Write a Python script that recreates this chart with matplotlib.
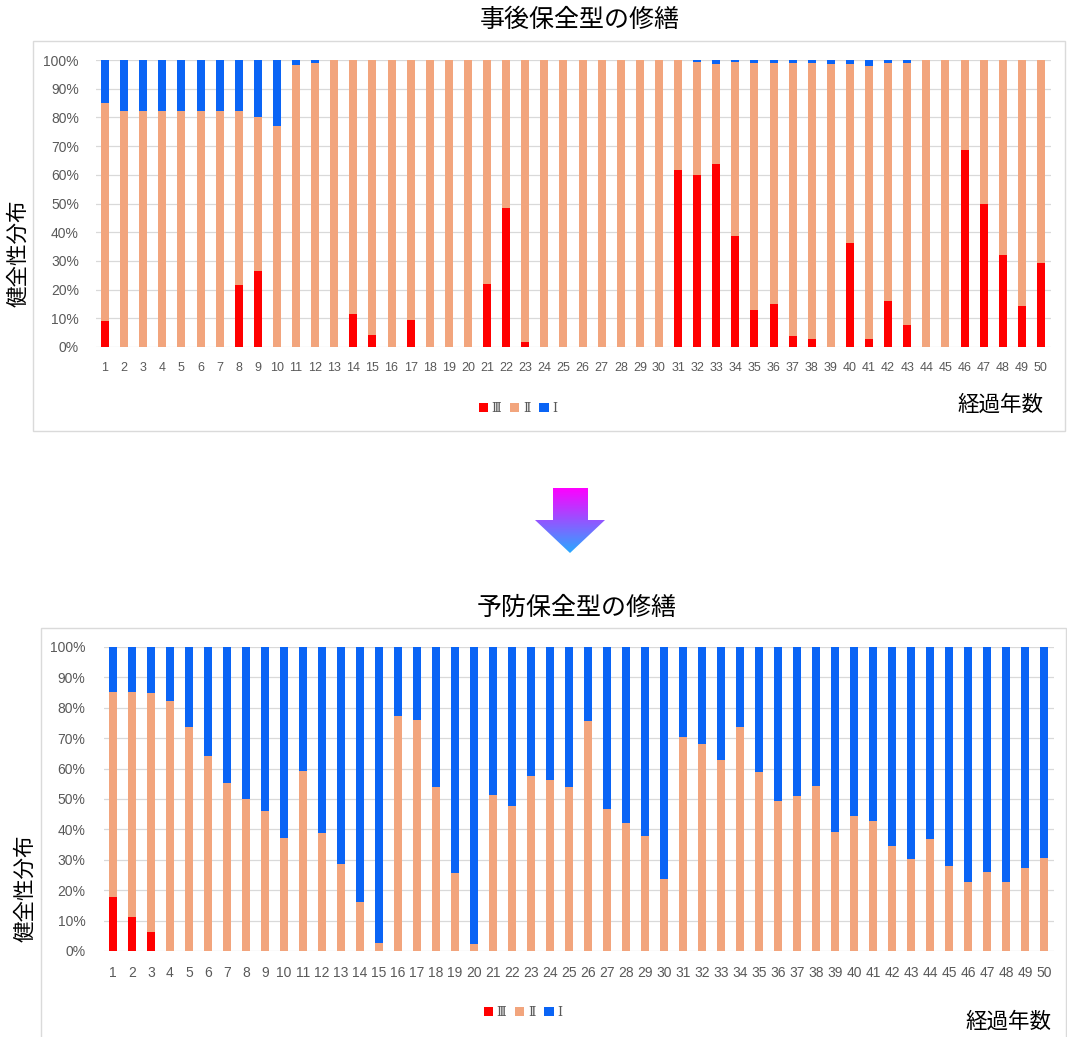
import matplotlib
matplotlib.use('Agg')
import matplotlib.pyplot as plt
import numpy as np
from matplotlib.patches import Rectangle, Polygon, Patch
from matplotlib.colors import LinearSegmentedColormap

# ---------------- data ----------------
years = list(range(1, 51))
year_labels = [str(y) for y in years]
legend_labels = ['Ⅲ', 'Ⅱ', 'Ⅰ']

# 事後保全型 (corrective maintenance)
post_III = [9.0, 0, 0, 0, 0, 0, 0, 21.7, 26.5, 0,
            0, 0, 0, 11.6, 4.2, 0, 9.3, 0, 0, 0,
            22.1, 48.5, 1.7, 0, 0, 0, 0, 0, 0, 0,
            61.6, 59.8, 63.6, 38.6, 13.0, 15.1, 3.7, 2.9, 0, 36.4,
            2.9, 16.0, 7.6, 0, 0, 68.6, 50.0, 32.0, 14.2, 29.3]
post_II = [76.1, 82.2, 82.2, 82.2, 82.2, 82.2, 82.2, 60.5, 53.7, 77.0,
           98.3, 98.8, 100, 88.4, 95.8, 100, 90.7, 100, 100, 100,
           77.9, 51.5, 98.3, 100, 100, 100, 100, 100, 100, 100,
           38.4, 39.6, 34.9, 60.6, 85.8, 83.7, 95.1, 95.9, 98.5, 62.1,
           95.0, 83.1, 91.2, 100, 100, 31.4, 50.0, 68.0, 85.8, 70.7]
post_I = [14.9, 17.8, 17.8, 17.8, 17.8, 17.8, 17.8, 17.8, 19.8, 23.0,
          1.7, 1.2, 0, 0, 0, 0, 0, 0, 0, 0,
          0, 0, 0, 0, 0, 0, 0, 0, 0, 0,
          0, 0.6, 1.5, 0.8, 1.2, 1.2, 1.2, 1.2, 1.5, 1.5,
          2.1, 0.9, 1.2, 0, 0, 0, 0, 0, 0, 0]

# 予防保全型 (preventive maintenance)
prev_III = [17.6, 11.3, 6.3, 0, 0, 0, 0, 0, 0, 0,
            0, 0, 0, 0, 0, 0, 0, 0, 0, 0,
            0, 0, 0, 0, 0, 0, 0, 0, 0, 0,
            0, 0, 0, 0, 0, 0, 0, 0, 0, 0,
            0, 0, 0, 0, 0, 0, 0, 0, 0, 0]
prev_II = [67.7, 74.0, 78.7, 82.2, 73.8, 64.2, 55.4, 50.1, 46.2, 37.3,
           59.3, 38.7, 28.6, 16.0, 2.5, 77.4, 76.1, 54.1, 25.6, 2.2,
           51.2, 47.7, 57.7, 56.2, 54.1, 75.7, 46.8, 42.0, 37.9, 23.8,
           70.4, 68.1, 62.9, 73.7, 58.8, 49.5, 50.9, 54.3, 39.0, 44.3,
           42.8, 34.5, 30.3, 36.8, 28.0, 22.8, 26.0, 22.8, 27.4, 30.6]
prev_I = [14.7, 14.7, 15.0, 17.8, 26.2, 35.8, 44.6, 49.9, 53.8, 62.7,
          40.7, 61.3, 71.4, 84.0, 97.5, 22.6, 23.9, 45.9, 74.4, 97.8,
          48.8, 52.3, 42.3, 43.8, 45.9, 24.3, 53.2, 58.0, 62.1, 76.2,
          29.6, 31.9, 37.1, 26.3, 41.2, 50.5, 49.1, 45.7, 61.0, 55.7,
          57.2, 65.5, 69.7, 63.2, 72.0, 77.2, 74.0, 77.2, 72.6, 69.4]

title_top = '事後保全型の修繕'
title_bottom = '予防保全型の修繕'
ylabel = '健全性分布'
xlabel = '経過年数'

# ---------------- style ----------------
C_III = '#FF0000'
C_II = '#F2A57D'
C_I = '#0A64F5'
GRID = '#D9D9D9'
TICK = '#595959'
JP = ['Noto Sans CJK JP', 'DejaVu Sans']
NUM = ['Liberation Sans', 'DejaVu Sans']
ROMAN = ['DejaVu Serif', 'Noto Sans CJK JP']

W, H = 1067, 1037
fig = plt.figure(figsize=(W / 100, H / 100), dpi=100)


def fx(px):
    return px / W


def fy(py):
    return 1 - py / H


def rect_px(x0, y0, x1, y1):
    return [fx(x0), fy(y1), (x1 - x0) / W, (y1 - y0) / H]


def draw_chart(ax, iii, ii, i, width, xfs, yfs, ypad, xpad):
    x = np.array(years)
    iii = np.array(iii)
    ii = np.array(ii)
    i = np.array(i)
    ax.bar(x, iii, width, color=C_III, zorder=3, linewidth=0)
    ax.bar(x, ii, width, bottom=iii, color=C_II, zorder=3, linewidth=0)
    ax.bar(x, i, width, bottom=iii + ii, color=C_I, zorder=3, linewidth=0)
    ax.set_xlim(0.5, 50.5)
    ax.set_ylim(0, 100)
    ax.set_yticks(range(0, 101, 10))
    ax.set_yticklabels([f'{v}%' for v in range(0, 101, 10)],
                       fontsize=yfs, color=TICK, family=NUM)
    ax.set_xticks(x)
    ax.set_xticklabels(year_labels, fontsize=xfs, color=TICK, family=NUM)
    ax.tick_params(axis='both', length=0)
    ax.tick_params(axis='y', pad=ypad)
    ax.tick_params(axis='x', pad=xpad)
    for s in ax.spines.values():
        s.set_visible(False)
    ax.yaxis.grid(True, color=GRID, linewidth=0.9, zorder=0)
    ax.set_axisbelow(True)


def legend_at(cx, cy):
    handles = [Patch(facecolor=c, edgecolor='none') for c in (C_III, C_II, C_I)]
    leg = fig.legend(handles, legend_labels, loc='center',
                     bbox_to_anchor=(fx(cx), fy(cy)), ncol=3, frameon=False,
                     handlelength=0.75, handleheight=0.75, handletextpad=0.3,
                     columnspacing=0.7, borderaxespad=0,
                     prop={'family': ROMAN, 'size': 9})
    for t in leg.get_texts():
        t.set_color(TICK)


# background boxes
fig.patches.append(Rectangle((fx(33), fy(431)), (1065 - 33) / W, (431 - 41) / H,
                             transform=fig.transFigure, fill=False,
                             edgecolor='#DADADA', linewidth=1.0))
fig.patches.append(Rectangle((fx(41), fy(1040)), (1066 - 41) / W, (1040 - 628) / H,
                             transform=fig.transFigure, fill=False,
                             edgecolor='#DADADA', linewidth=1.0))

# top chart
ax1 = fig.add_axes(rect_px(95.5, 60, 1050.5, 347))
draw_chart(ax1, post_III, post_II, post_I, 0.42, 9, 10, 12, 11)
fig.text(fx(580), fy(20), title_top, ha='center', va='center', fontsize=18, family=JP)
fig.text(fx(18), fy(253), ylabel, ha='center', va='center', rotation=90, fontsize=15.5, family=JP)
fig.text(fx(1000), fy(405), xlabel, ha='center', va='center', fontsize=15.5, family=JP)
legend_at(518, 408)

# bottom chart
ax2 = fig.add_axes(rect_px(103.5, 647, 1053.5, 951))
draw_chart(ax2, prev_III, prev_II, prev_I, 0.47, 10, 10, 13, 11)
fig.text(fx(577), fy(608), title_bottom, ha='center', va='center', fontsize=18, family=JP)
fig.text(fx(25), fy(888), ylabel, ha='center', va='center', rotation=90, fontsize=15.5, family=JP)
fig.text(fx(1008), fy(1022), xlabel, ha='center', va='center', fontsize=15.5, family=JP)
legend_at(523, 1012)

# gradient arrow between the charts
axa = fig.add_axes(rect_px(530, 485, 610, 556))
axa.set_xlim(0, 80)
axa.set_ylim(71, 0)
axa.axis('off')
cmap = LinearSegmentedColormap.from_list('arrow', ['#FF00FF', '#9455FF', '#28AAFF'])
grad = np.linspace(0, 1, 256).reshape(-1, 1)
img = axa.imshow(grad, cmap=cmap, extent=[0, 80, 68, 3], aspect='auto', origin='upper')
arrow = Polygon([(23, 3), (58, 3), (58, 35), (75, 35), (40, 68), (5, 35), (23, 35)],
                closed=True, facecolor='none', edgecolor='none',
                transform=axa.transData)
axa.add_patch(arrow)
img.set_clip_path(arrow)

fig.savefig('out.png', dpi=100)
